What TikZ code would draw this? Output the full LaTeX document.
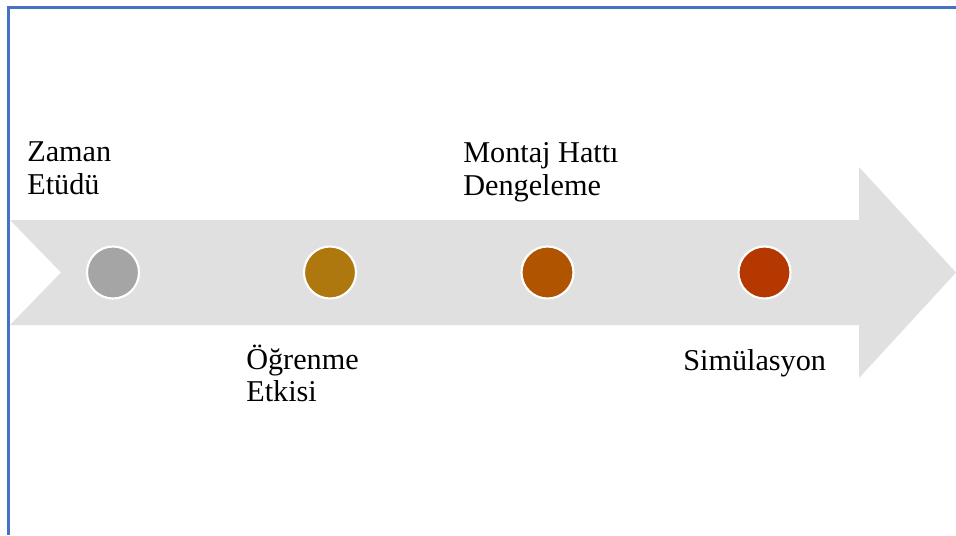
\documentclass[tikz,border=0pt]{standalone}
\usepackage{fontspec}
\setmainfont{Liberation Serif}
\definecolor{bandgray}{HTML}{E0E0E0}
\definecolor{edgeblue}{HTML}{4472C4}
\definecolor{stepA}{HTML}{A5A5A5}
\definecolor{stepB}{HTML}{AE780E}
\definecolor{stepC}{HTML}{B05400}
\definecolor{stepD}{HTML}{B43800}
\tikzset{
  stage/.style={circle, draw=white, line width=1.5pt, minimum size=1.3cm, inner sep=0pt},
  lbl/.style={anchor=base west, align=left, inner sep=0pt, font=\fontsize{21.5}{23}\selectfont},
}
\begin{document}
\begin{tikzpicture}[x=0.025cm, y=-0.025cm]
\useasboundingbox (0,0) rectangle (956,535);
% frame
\draw[edgeblue, line width=1.6pt] (956,7.5) -- (8.5,7.5) -- (8.5,535);
% band with arrow head
\fill[bandgray] (10,220) -- (859,220) -- (859,167) -- (956,272.5) -- (859,378)
  -- (859,325) -- (10,325) -- (61,272.5) -- cycle;
% stages
\node[stage, fill=stepA] (s1) at (113,272.5) {};
\node[stage, fill=stepB] (s2) at (330,272.5) {};
\node[stage, fill=stepC] (s3) at (547.5,272.5) {};
\node[stage, fill=stepD] (s4) at (764.5,272.5) {};
% labels (base = last line)
\node[lbl] (l1) at (27,194) {Zaman\\Etüdü};
\node[lbl] (l2) at (246,401.5) {Öğrenme\\Etkisi};
\node[lbl] (l3) at (463,195) {Montaj Hattı\\Dengeleme};
\node[lbl] (l4) at (683,370) {Simülasyon};
\end{tikzpicture}
\end{document}
